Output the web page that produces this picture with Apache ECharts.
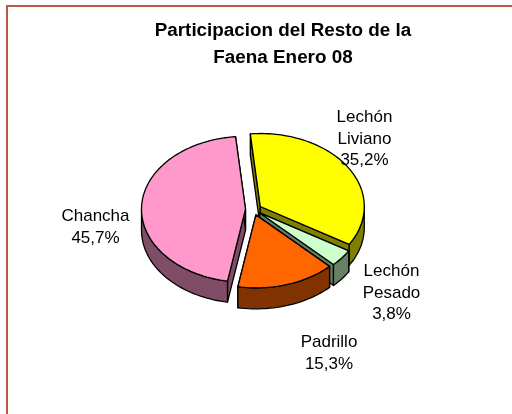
<!DOCTYPE html>
<html><head><meta charset="utf-8">
<style>html,body{margin:0;padding:0;background:#fff}#c{width:512px;height:414px}</style>
<script src="https://cdn.jsdelivr.net/npm/echarts@6/dist/echarts.min.js"></script>
</head><body><div id="c"></div>
<script>
const categories = ['Lechón Liviano', 'Lechón Pesado', 'Padrillo', 'Chancha'];
const values = [35.2, 3.8, 15.3, 45.7];
const topColors = ['#FFFF00', '#CCFFCC', '#FF6600', '#FF99CC'];
const wallColors = ['#808000', '#668066', '#803300', '#804D66'];
const labelX = [364.5, 391.5, 329, 95.5];
const labelY = [139, 293, 353, 227.5];
const titleLines = ['Participacion del Resto de la', 'Faena Enero 08'];

const cx = 253.5, cy = 209.5, a = 104, b = 73, depth = 21, explode = 8, firstAngle = -5.5;
const total = values.reduce((s, v) => s + v, 0);
const rad = d => d * Math.PI / 180;
const pt = (o, t, rx, ry) => [o[0] + rx * Math.sin(rad(t)), o[1] - ry * Math.cos(rad(t))];
const down = p => [p[0], p[1] + depth];
const line = { stroke: '#000', lineWidth: 1.3, lineJoin: 'round' };

function arc(o, t0, t1) {
  const n = Math.max(2, Math.ceil(Math.abs(t1 - t0) / 2)), out = [];
  for (let i = 0; i <= n; i++) out.push(pt(o, t0 + (t1 - t0) * i / n, a, b));
  return out;
}
function renderItem(params, api) {
  const i = params.dataIndex;
  let before = 0;
  for (let k = 0; k < i; k++) before += values[k];
  const t0 = firstAngle + before / total * 360;
  const t1 = t0 + api.value(0) / total * 360;
  const mid = (t0 + t1) / 2;
  const v = pt([cx, cy], mid, explode, explode * b / a);
  const kids = [];
  const wall = pts => kids.push({ type: 'polygon', shape: { points: pts },
    style: Object.assign({ fill: wallColors[i] }, line) });
  [t0, t1].forEach(t => {
    const p = pt(v, t, a, b);
    wall([v, p, down(p), down(v)]);
  });
  const w0 = Math.max(t0, 90), w1 = Math.min(t1, 270);
  if (w1 > w0) {
    const top = arc(v, w0, w1);
    wall(top.concat(top.slice().reverse().map(down)));
  }
  kids.push({ type: 'polygon', shape: { points: [v].concat(arc(v, t0, t1)) },
    style: Object.assign({ fill: topColors[i] }, line) });
  return { type: 'group', children: kids };
}
const labelGraphics = categories.map((c, i) => ({
  type: 'text', x: labelX[i], y: labelY[i], z: 50,
  style: {
    text: c.split(' ').concat(values[i].toFixed(1).replace('.', ',') + '%').join('\n'),
    align: 'center', verticalAlign: 'middle',
    font: '17px "Liberation Sans", Arial, sans-serif', lineHeight: 21.7, fill: '#000'
  }
}));
const titleGraphic = {
  type: 'text', x: 283, y: 44.5, z: 50,
  style: {
    text: titleLines.join('\n'), align: 'center', verticalAlign: 'middle',
    font: 'bold 18.85px "Liberation Sans", Arial, sans-serif', lineHeight: 27, fill: '#000'
  }
};
const chart = echarts.init(document.getElementById('c'), null, { renderer: 'canvas' });
chart.setOption({
  animation: false,
  backgroundColor: '#fff',
  graphic: [{
    type: 'polyline', z: 1,
    shape: { points: [[7, 420], [7, 6], [520, 6]] },
    style: { stroke: '#B85A45', lineWidth: 2, fill: null }
  }, titleGraphic].concat(labelGraphics),
  series: [{
    type: 'custom', coordinateSystem: 'none', renderItem, silent: true, z: 5,
    data: values.map((v, i) => ({ name: categories[i], value: [v] }))
  }]
});
</script></body></html>
